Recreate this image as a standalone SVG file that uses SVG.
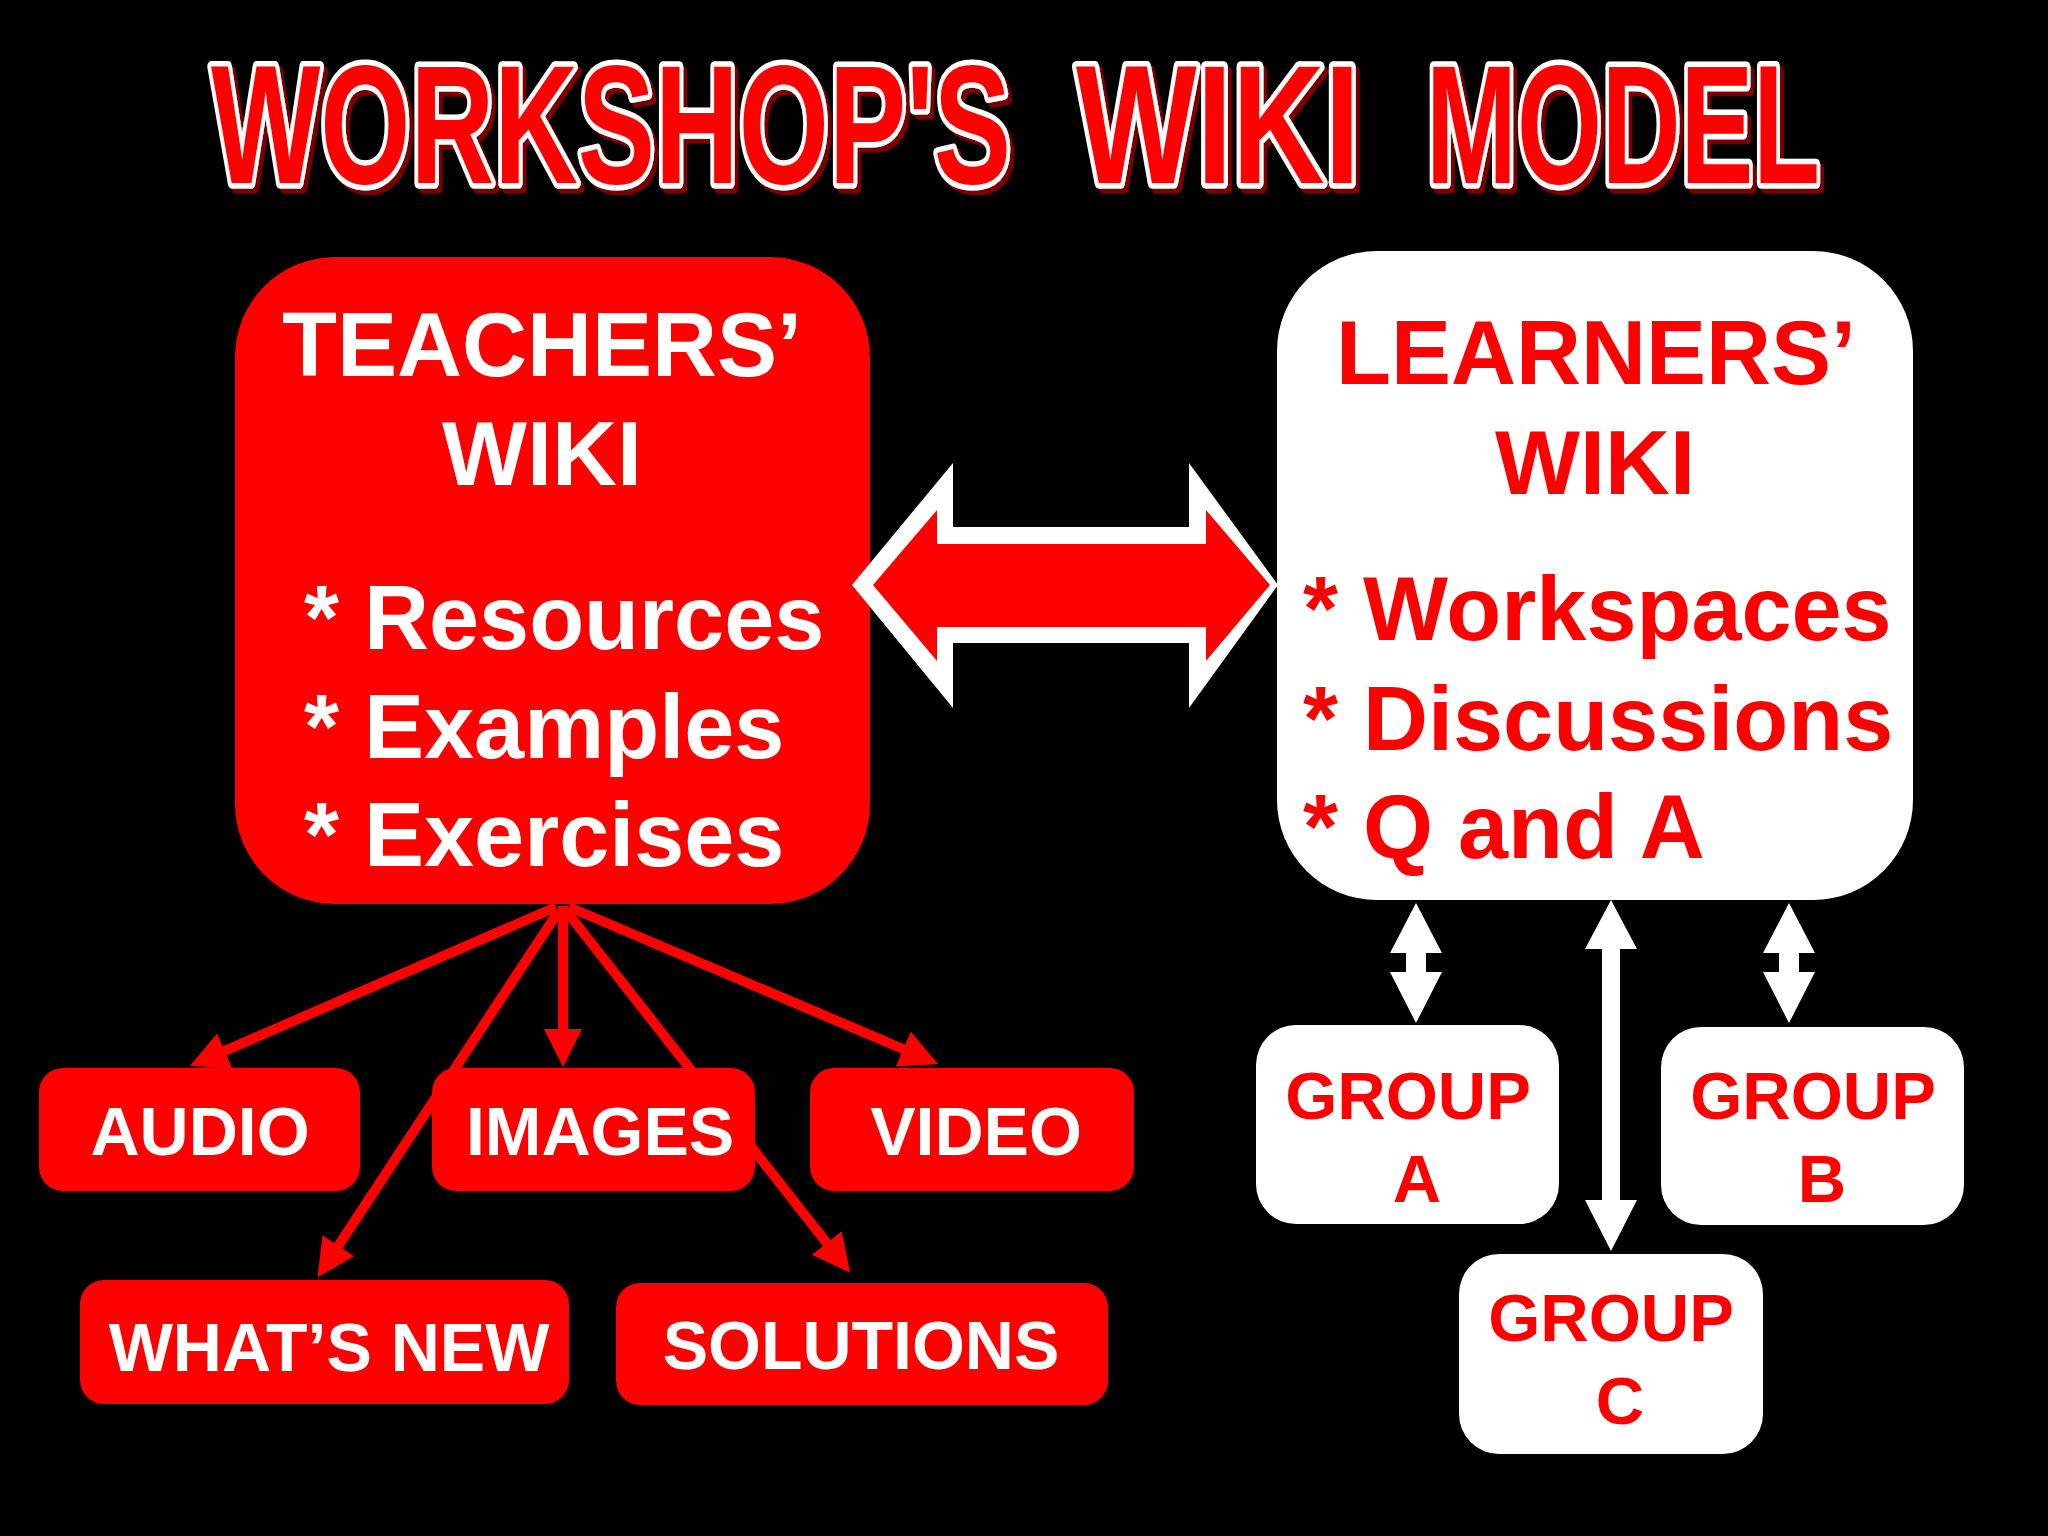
<svg xmlns="http://www.w3.org/2000/svg" width="2048" height="1536" viewBox="0 0 2048 1536">
<defs>
<style>
.t{font-family:"Liberation Sans",Arial,sans-serif;font-weight:bold}
.w{fill:#ffffff}
.r{fill:#ff0000}
.big{font-size:90px}
.sm{font-size:68px}
.grp{font-size:67px}
.rbox{fill:#ff0000}
.wbox{fill:#ffffff}
.rl{stroke:#ff0000;stroke-width:10;fill:none;marker-end:url(#rh)}
.wa{fill:#ffffff}
.ttl{font-family:"Liberation Sans Narrow","Liberation Sans",Arial,sans-serif;font-weight:bold;font-size:168px;fill:#ff0000;stroke:#ffffff;stroke-width:11;stroke-linejoin:round;paint-order:stroke}
</style>
<filter id="sh" x="-5%" y="-20%" width="110%" height="140%">
<feDropShadow dx="4" dy="5" stdDeviation="0" flood-color="#7a0000" flood-opacity="1"/>
</filter>
<marker id="rh" viewBox="0 0 38 38" refX="28" refY="19" markerWidth="38" markerHeight="38" markerUnits="userSpaceOnUse" orient="auto">
<path d="M0,0 L38,19 L0,38 z" fill="#ff0000"/>
</marker>
</defs>
<rect width="2048" height="1536" fill="#000000"/>

<g id="title" filter="url(#sh)">
<text class="ttl" x="211" y="183" textLength="800" lengthAdjust="spacingAndGlyphs">WORKSHOP'S</text>
<text class="ttl" x="1076" y="183" textLength="284" lengthAdjust="spacingAndGlyphs">WIKI</text>
<text class="ttl" x="1426" y="183" textLength="394" lengthAdjust="spacingAndGlyphs">MODEL</text>
</g>

<g id="teachers-wiki">
<rect class="rbox" x="235" y="257" width="635" height="647" rx="100" ry="100"/>
<text class="t w big" x="542" y="376" text-anchor="middle">TEACHERS’</text>
<text class="t w big" x="542" y="485" text-anchor="middle">WIKI</text>
<text class="t w big" x="304" y="649">* Resources</text>
<text class="t w big" x="304" y="758">* Examples</text>
<text class="t w big" x="304" y="866">* Exercises</text>
</g>

<g id="connectors">
<polygon points="852,585 953,463 953,527 1189,527 1189,463 1278,585 1189,708 1189,643 953,643 953,708" fill="#ffffff"/>
<polygon points="873,585 937,510 937,544 1206,544 1206,510 1270,585 1206,661 1206,627 937,627 937,661" fill="#ff0000"/>
<line class="rl" x1="556" y1="907" x2="199" y2="1062"/>
<line class="rl" x1="558" y1="912" x2="323" y2="1269"/>
<line class="rl" x1="563" y1="906" x2="563" y2="1057"/>
<line class="rl" x1="567" y1="912" x2="844" y2="1265"/>
<line class="rl" x1="569" y1="907" x2="929" y2="1060"/>
<polygon class="wa" points="1416,903 1442,953 1426,953 1426,972 1442,972 1416,1023 1390,972 1406,972 1406,953 1390,953"/>
<polygon class="wa" points="1789,903 1815,953 1799,953 1799,972 1815,972 1789,1023 1763,972 1779,972 1779,953 1763,953"/>
<polygon class="wa" points="1611,900 1637,949 1620,949 1620,1200 1637,1200 1611,1251 1585,1200 1602,1200 1602,949 1585,949"/>
</g>

<g id="learners-wiki">
<rect class="wbox" x="1277" y="251" width="636" height="649" rx="100" ry="100"/>
<text class="t r big" x="1596" y="384" text-anchor="middle">LEARNERS’</text>
<text class="t r big" x="1595" y="494" text-anchor="middle">WIKI</text>
<text class="t r big" x="1303" y="640">* Workspaces</text>
<text class="t r big" x="1303" y="750">* Discussions</text>
<text class="t r big" x="1303" y="858">* Q and A</text>
</g>

<g id="audio">
<rect class="rbox" x="39" y="1068" width="321" height="123" rx="24"/>
<text class="t w sm" x="200" y="1155" text-anchor="middle">AUDIO</text>
</g>
<g id="images">
<rect class="rbox" x="432" y="1068" width="323" height="123" rx="24"/>
<text class="t w sm" x="600" y="1155" text-anchor="middle">IMAGES</text>
</g>
<g id="video">
<rect class="rbox" x="810" y="1068" width="324" height="123" rx="24"/>
<text class="t w sm" x="976" y="1155" text-anchor="middle">VIDEO</text>
</g>
<g id="whats-new">
<rect class="rbox" x="80" y="1280" width="489" height="124" rx="24"/>
<text class="t w sm" x="329" y="1371" text-anchor="middle">WHAT’S NEW</text>
</g>
<g id="solutions">
<rect class="rbox" x="616" y="1283" width="492" height="122" rx="24"/>
<text class="t w sm" x="861" y="1369" text-anchor="middle">SOLUTIONS</text>
</g>

<g id="group-a">
<rect class="wbox" x="1256" y="1025" width="303" height="199" rx="40"/>
<text class="t r grp" x="1408" y="1119" text-anchor="middle">GROUP</text>
<text class="t r grp" x="1417" y="1202" text-anchor="middle">A</text>
</g>
<g id="group-b">
<rect class="wbox" x="1661" y="1027" width="303" height="198" rx="40"/>
<text class="t r grp" x="1813" y="1119" text-anchor="middle">GROUP</text>
<text class="t r grp" x="1822" y="1202" text-anchor="middle">B</text>
</g>
<g id="group-c">
<rect class="wbox" x="1459" y="1254" width="304" height="200" rx="40"/>
<text class="t r grp" x="1611" y="1341" text-anchor="middle">GROUP</text>
<text class="t r grp" x="1620" y="1424" text-anchor="middle">C</text>
</g>
</svg>
